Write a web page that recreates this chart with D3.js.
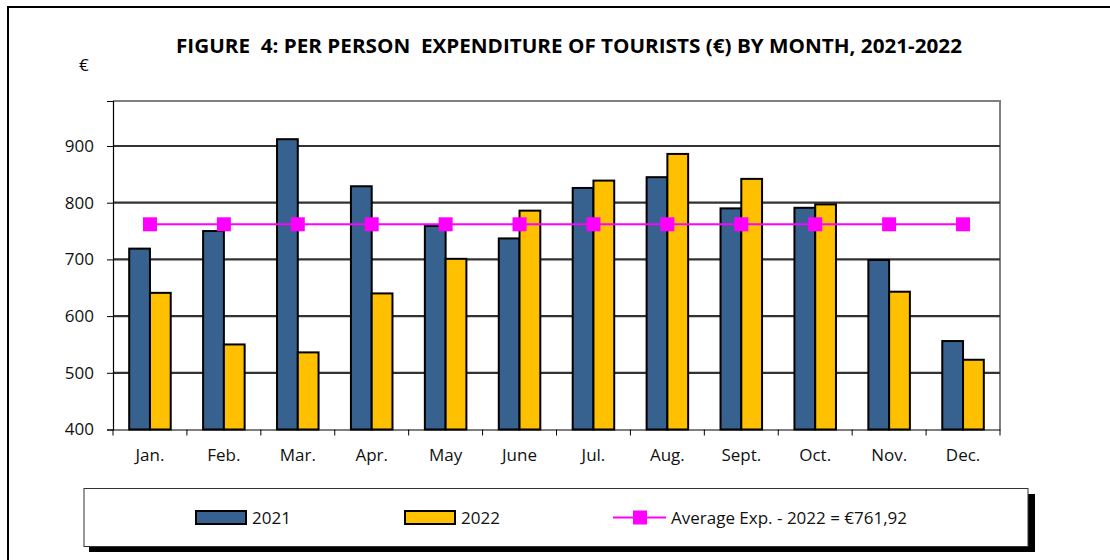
<!DOCTYPE html>
<html>
<head>
<script src="https://d3js.org/d3.v7.min.js"></script>
<style>
body { margin: 0; background: #fff; }
text { font-family: "Open Sans", "Liberation Sans", Arial, sans-serif; }
</style>
</head>
<body>
<div id="chart"></div>
<script>
var width = 1110;
var height = 560;

var months = ["Jan.", "Feb.", "Mar.", "Apr.", "May", "June", "Jul.", "Aug.", "Sept.", "Oct.", "Nov.", "Dec."];
var exp2021 = [719, 750, 912, 829, 759, 737, 826, 845, 790, 791, 699, 556];
var exp2022 = [641, 550, 536, 640, 701, 786, 839, 886, 842, 797, 643, 523];
var avg2022 = 761.92;
var yTicks = [400, 500, 600, 700, 800, 900];

var blue = "#37618f", yellow = "#ffc000", magenta = "#ff00ff";

var svg = d3.select("#chart").append("svg")
    .attr("width", width)
    .attr("height", height);

// outer frame
svg.append("path")
    .attr("d", "M8,560 V7 H1110")
    .attr("fill", "none")
    .attr("stroke", "#000")
    .attr("stroke-width", 2);

svg.append("text")
    .attr("x", 569)
    .attr("y", 53)
    .attr("text-anchor", "middle")
    .attr("font-size", 19)
    .attr("font-weight", "bold")
    .attr("textLength", 786)
    .attr("lengthAdjust", "spacingAndGlyphs")
    .style("white-space", "pre")
    .text("FIGURE  4: PER PERSON  EXPENDITURE OF TOURISTS (€) BY MONTH, 2021-2022");

svg.append("text")
    .attr("x", 79)
    .attr("y", 71)
    .attr("font-size", 17)
    .text("€");

var pLeft = 113, pRight = 1000, pTop = 101, pBottom = 429.5;

var x = d3.scaleBand().domain(months).range([pLeft, pRight]).padding(0);
var y = d3.scaleLinear().domain([400, 400 + (pBottom - pTop) / 0.567]).range([pBottom, pTop]);
var xs = d3.scaleBand().domain([0, 1]).range([0, x.bandwidth()]).paddingInner(0).paddingOuter(0.78);

// plot border (top/right)
svg.append("path")
    .attr("d", "M" + pLeft + "," + pTop + " H" + pRight + " V" + pBottom)
    .attr("fill", "none")
    .attr("stroke", "#808080")
    .attr("stroke-width", 2);

// gridlines
svg.append("g").selectAll("line")
    .data(yTicks.slice(1))
    .enter().append("line")
    .attr("x1", pLeft).attr("x2", pRight)
    .attr("y1", function (d) { return y(d); })
    .attr("y2", function (d) { return y(d); })
    .attr("stroke", "#333")
    .attr("stroke-width", 2.2);

// bars
var groups = svg.append("g").selectAll("g")
    .data(months)
    .enter().append("g")
    .attr("transform", function (d) { return "translate(" + x(d) + ",0)"; });

groups.append("rect")
    .attr("x", xs(0))
    .attr("y", function (d, i) { return y(exp2021[i]); })
    .attr("width", xs.bandwidth())
    .attr("height", function (d, i) { return y(400) - y(exp2021[i]); })
    .attr("fill", blue)
    .attr("stroke", "#000")
    .attr("stroke-width", 2);

groups.append("rect")
    .attr("x", xs(1))
    .attr("y", function (d, i) { return y(exp2022[i]); })
    .attr("width", xs.bandwidth())
    .attr("height", function (d, i) { return y(400) - y(exp2022[i]); })
    .attr("fill", yellow)
    .attr("stroke", "#000")
    .attr("stroke-width", 2);

// axes
var yAxis = svg.append("g")
    .attr("transform", "translate(" + pLeft + ",0)")
    .call(d3.axisLeft(y).tickValues(yTicks).tickSize(6).tickPadding(13));
yAxis.select(".domain").attr("stroke", "#000").attr("stroke-width", 1.2);
yAxis.selectAll("text").attr("font-size", 17).attr("fill", "#111")
    .style("font-family", "'Open Sans', sans-serif");

var xAxis = svg.append("g")
    .attr("transform", "translate(0," + pBottom + ")")
    .call(d3.axisBottom(x).tickSize(0).tickPadding(19));
xAxis.select(".domain").attr("stroke", "#000").attr("stroke-width", 1.2);
xAxis.selectAll("text").attr("font-size", 17).attr("fill", "#111")
    .style("font-family", "'Open Sans', sans-serif");
xAxis.append("g").selectAll("line")
    .data(d3.range(months.length + 1))
    .enter().append("line")
    .attr("x1", function (i) { return pLeft + i * x.step(); })
    .attr("x2", function (i) { return pLeft + i * x.step(); })
    .attr("y1", 0).attr("y2", 6)
    .attr("stroke", "#000");

// average line
var line = d3.line()
    .x(function (d) { return x(d) + x.bandwidth() / 2; })
    .y(function () { return y(avg2022); });
svg.append("path")
    .datum(months)
    .attr("d", line)
    .attr("fill", "none")
    .attr("stroke", magenta)
    .attr("stroke-width", 2);
svg.append("g").selectAll("rect")
    .data(months)
    .enter().append("rect")
    .attr("x", function (d) { return x(d) + x.bandwidth() / 2 - 7; })
    .attr("y", y(avg2022) - 7)
    .attr("width", 14).attr("height", 14)
    .attr("fill", magenta);

// legend
var lg = svg.append("g");
lg.append("rect")
    .attr("x", 89).attr("y", 494).attr("width", 946).attr("height", 58)
    .attr("fill", "#000");
lg.append("rect")
    .attr("x", 84).attr("y", 488.5).attr("width", 944).attr("height", 58)
    .attr("fill", "#fff").attr("stroke", "#333").attr("stroke-width", 1);

var keys = [
  { label: "2021", color: blue, x: 196 },
  { label: "2022", color: yellow, x: 405 }
];
lg.selectAll(".sw").data(keys).enter().append("rect")
    .attr("x", function (d) { return d.x; })
    .attr("y", 511)
    .attr("width", 50).attr("height", 13)
    .attr("fill", function (d) { return d.color; })
    .attr("stroke", "#000").attr("stroke-width", 2);
lg.selectAll(".lt").data(keys).enter().append("text")
    .attr("x", function (d) { return d.x + 56; })
    .attr("y", 524)
    .attr("font-size", 17)
    .attr("fill", "#111")
    .text(function (d) { return d.label; });

lg.append("line")
    .attr("x1", 613).attr("x2", 666).attr("y1", 517.5).attr("y2", 517.5)
    .attr("stroke", magenta).attr("stroke-width", 2);
lg.append("rect")
    .attr("x", 633).attr("y", 510.5).attr("width", 14).attr("height", 14)
    .attr("fill", magenta);
lg.append("text")
    .attr("x", 671).attr("y", 524)
    .attr("font-size", 17)
    .attr("fill", "#111")
    .text("Average Exp. - 2022 = €" + d3.format(".2f")(avg2022).replace(".", ","));
</script>
</body>
</html>
